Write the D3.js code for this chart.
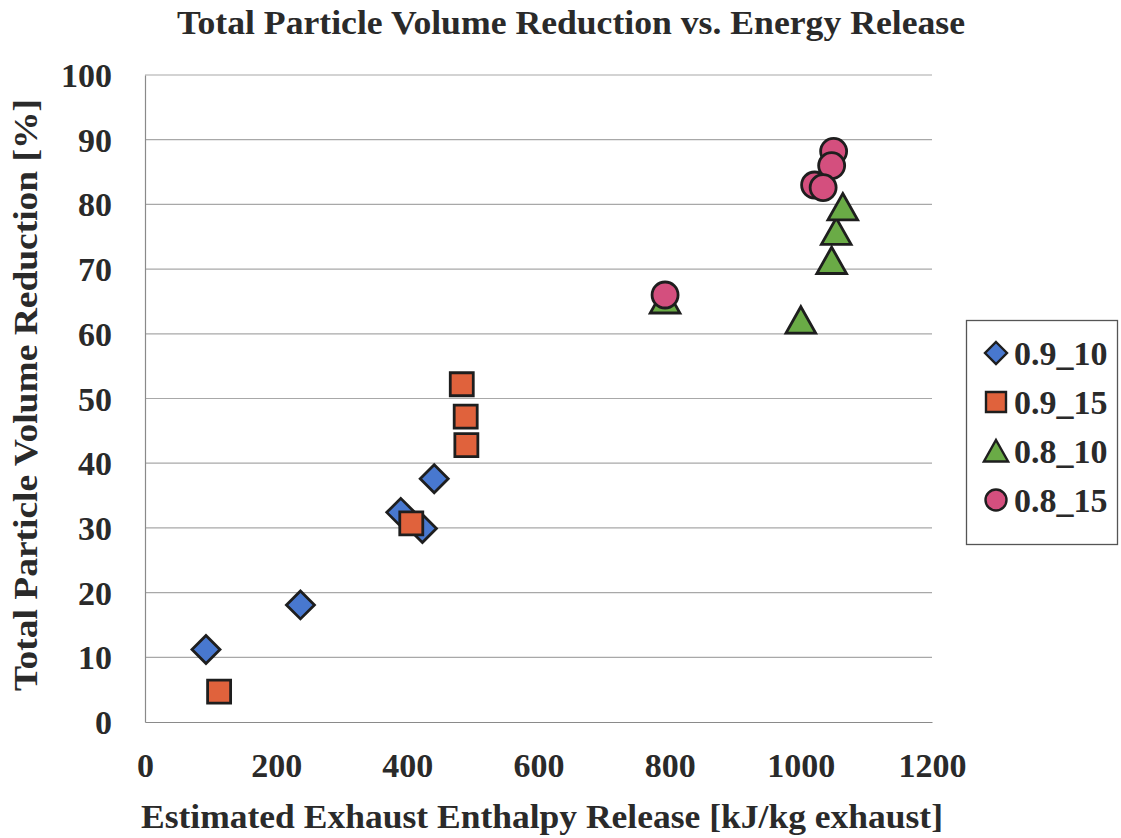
<!DOCTYPE html>
<html>
<head>
<meta charset="utf-8">
<script src="https://cdn.jsdelivr.net/npm/d3@7"></script>
<style>
  html, body { margin: 0; padding: 0; background: #fff; }
  svg text { font-family: "Liberation Serif", "Times New Roman", serif; font-weight: bold; fill: #2a2a2a; }
</style>
</head>
<body>
<svg id="chart" width="1121" height="838"></svg>
<script>
// Series: estimated exhaust enthalpy release (kJ/kg) vs. total particle volume reduction (%)
const seriesNames = ["0.9_10", "0.9_15", "0.8_10", "0.8_15"];
const s0910x = [93, 237, 390, 423, 441];
const s0910y = [11.2, 18.1, 32.4, 29.9, 37.6];
const s0915x = [113, 406, 483, 489, 490];
const s0915y = [4.7, 30.7, 52.2, 47.2, 42.8];
const s0810x = [793, 1000, 1047, 1054, 1064];
const s0810y = [65.2, 62.1, 71.3, 75.8, 79.6];
const s0815x = [793, 1050, 1047, 1021, 1034];
const s0815y = [66.0, 88.2, 86.0, 83.0, 82.6];
const xTicks = [0, 200, 400, 600, 800, 1000, 1200];
const yTicks = [0, 10, 20, 30, 40, 50, 60, 70, 80, 90, 100];
const fills = ["#4878cf", "#e0623c", "#6aab46", "#d44f7e"];
const shapes = ["diamond", "square", "triangle", "circle"];

const svg = d3.select("#chart");
const plot = { left: 145, right: 932, top: 75, bottom: 722 };

const x = d3.scaleLinear().domain([0, 1200]).range([plot.left, plot.right]);
const y = d3.scaleLinear().domain([0, 100]).range([plot.bottom, plot.top]);

// Horizontal gridlines
svg.append("g")
  .selectAll("line")
  .data(yTicks.filter(d => d > 0))
  .join("line")
  .attr("x1", plot.left).attr("x2", plot.right)
  .attr("y1", d => y(d)).attr("y2", d => y(d))
  .attr("stroke", "#a8a8a8").attr("stroke-width", 1.2);

// Axes
const xAxis = svg.append("g")
  .attr("transform", `translate(0,${plot.bottom})`)
  .call(d3.axisBottom(x).tickValues(xTicks).tickSize(0).tickPadding(32).tickFormat(d3.format("d")));
const yAxis = svg.append("g")
  .attr("transform", `translate(${plot.left},0)`)
  .call(d3.axisLeft(y).tickValues(yTicks).tickSize(0).tickPadding(33).tickFormat(d3.format("d")));
[xAxis, yAxis].forEach(a => {
  a.select(".domain").attr("stroke", "#8a8a8a").attr("stroke-width", 1.2);
  a.selectAll("text").style("font-size", "34px").attr("fill", "#2a2a2a");
});
xAxis.selectAll("text").attr("dy", "0.68em");
yAxis.selectAll("text").attr("dy", "0.34em");

// Marker path generators
function markerPath(shape, s) {
  const p = d3.path();
  if (shape === "diamond") {
    p.moveTo(0, -s); p.lineTo(s, 0); p.lineTo(0, s); p.lineTo(-s, 0); p.closePath();
  } else if (shape === "square") {
    p.rect(-s, -s, 2 * s, 2 * s);
  } else if (shape === "triangle") {
    p.moveTo(0, -s); p.lineTo(s * 1.1, s * 0.95); p.lineTo(-s * 1.1, s * 0.95); p.closePath();
  } else {
    p.arc(0, 0, s, 0, 2 * Math.PI);
  }
  return p.toString();
}
const markerSize = { diamond: 14, square: 11.5, triangle: 13.5, circle: 13 };
const legendMarkerSize = { diamond: 11, square: 10, triangle: 11, circle: 10.5 };

const seriesX = [s0910x, s0915x, s0810x, s0815x];
const seriesY = [s0910y, s0915y, s0810y, s0815y];

seriesNames.forEach((name, i) => {
  const pts = seriesX[i].map((v, j) => ({ x: v, y: seriesY[i][j] }));
  svg.append("g")
    .selectAll("path")
    .data(pts)
    .join("path")
    .attr("transform", d => `translate(${x(d.x)},${y(d.y)})`)
    .attr("d", markerPath(shapes[i], markerSize[shapes[i]]))
    .attr("fill", fills[i])
    .attr("stroke", "#1e1e1e")
    .attr("stroke-width", 2.8)
    .attr("stroke-linejoin", "miter");
});

// Title and axis titles
svg.append("text")
  .attr("x", 571).attr("y", 34)
  .attr("text-anchor", "middle")
  .style("font-size", "34px")
  .attr("textLength", 788).attr("lengthAdjust", "spacingAndGlyphs")
  .text("Total Particle Volume Reduction vs. Energy Release");

svg.append("text")
  .attr("x", 542).attr("y", 828)
  .attr("text-anchor", "middle")
  .style("font-size", "34px")
  .attr("textLength", 802).attr("lengthAdjust", "spacingAndGlyphs")
  .text("Estimated Exhaust Enthalpy Release [kJ/kg exhaust]");

svg.append("text")
  .attr("transform", "translate(37,395) rotate(-90)")
  .attr("text-anchor", "middle")
  .style("font-size", "34px")
  .attr("textLength", 592).attr("lengthAdjust", "spacingAndGlyphs")
  .text("Total Particle Volume Reduction [%]");

// Legend
const legend = svg.append("g");
legend.append("rect")
  .attr("x", 966.5).attr("y", 320.5).attr("width", 151).attr("height", 224)
  .attr("fill", "#fff").attr("stroke", "#555").attr("stroke-width", 1.3);
const legendY = d3.scalePoint().domain(seriesNames).range([353, 500]);
const items = legend.selectAll("g.item")
  .data(seriesNames)
  .join("g")
  .attr("class", "item")
  .attr("transform", d => `translate(996,${legendY(d)})`);
items.append("path")
  .attr("d", (d, i) => markerPath(shapes[i], legendMarkerSize[shapes[i]]))
  .attr("fill", (d, i) => fills[i])
  .attr("stroke", "#1e1e1e").attr("stroke-width", 2.4);
items.append("text")
  .attr("x", 18).attr("dy", "0.35em")
  .style("font-size", "34px")
  .text(d => d);
</script>
</body>
</html>
